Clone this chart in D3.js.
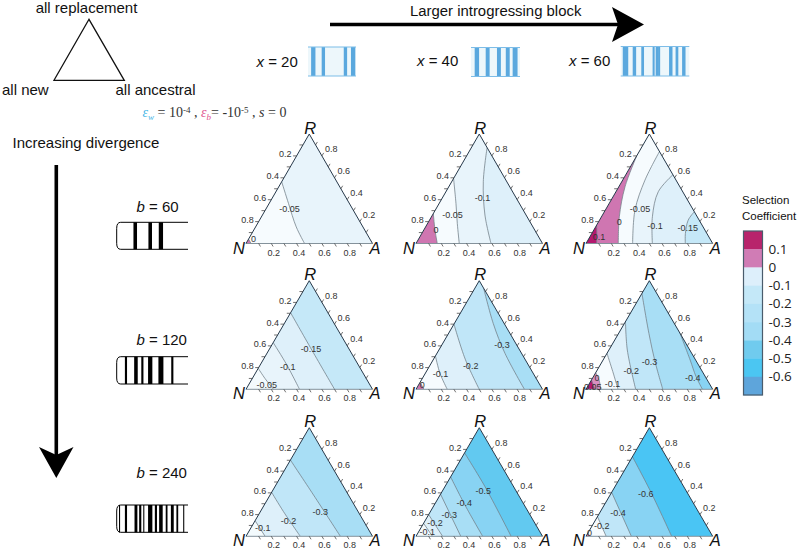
<!DOCTYPE html>
<html><head><meta charset="utf-8">
<script src="https://cdn.jsdelivr.net/npm/d3@7/dist/d3.min.js"></script>
<style>html,body{margin:0;background:#fff}svg{display:block}text{font-family:"Liberation Sans",Arial,sans-serif}</style>
</head><body><svg id="c" width="800" height="551"></svg>
<script>
// ---------- data (ternary coordinates: [ancestral, replacement]) ----------
const xSizes = [20, 40, 60];
const bSizes = [60, 120, 240];
const tickValues = [0.1,0.2,0.3,0.4,0.5,0.6,0.7,0.8,0.9];
const labelledTicks = [0.2,0.4,0.6,0.8];

const levels_b60_x20 = [0, -0.05];
const lines_b60_x20 = [
  [[0,.04],[.04,0]],
  [[0,.564],[.153,.366],[.321,.152],[.463,0]]];
const labels_b60_x20 = [[.04,.037],[.188,.311]];

const levels_b60_x40 = [0, -0.05, -0.1];
const lines_b60_x40 = [
  [[0,.274],[.08,.137],[.168,0]],
  [[0,.594],[.133,.366],[.235,.183],[.342,0]],
  [[.124,.876],[.25,.564],[.415,.26],[.593,0]]];
const labels_b60_x40 = [[.097,.122],[.158,.262],[.32,.413]];

const levels_b60_x60 = [0.1, 0, -0.05, -0.1, -0.15];
const lines_b60_x60 = [
  [[0,.168],[.04,.091],[.084,0]],
  [[0,.80],[.049,.518],[.141,.244],[.255,0]],
  [[.16,.84],[.176,.579],[.234,.305],[.368,0]],
  [[.372,.628],[.334,.473],[.402,.244],[.524,0]],
  [[.71,.29],[.70,.213],[.739,.091],[.784,0]]];
const labels_b60_x60 = [[.072,.061],[.164,.198],[.269,.314],[.465,.159],[.733,.14]];

const levels_b120_x20 = [-0.05, -0.1, -0.15];
const lines_b120_x20 = [
  [[0,.193],[.1,.1],[.217,0]],
  [[0,.43],[.211,.224],[.423,0]],
  [[0,.705],[.339,.362],[.70,0]]];
const labels_b120_x20 = [[.142,.043],[.228,.206],[.329,.368]];

const levels_b120_x40 = [0, -0.1, -0.2, -0.3];
const lines_b120_x40 = [
  [[0,.064],[.063,0]],
  [[0,.307],[.116,.147],[.247,0]],
  [[0,.60],[.25,.278],[.50,0]],
  [[.07,.93],[.307,.607],[.538,.331],[.857,0]]];
const labels_b120_x40 = [[.03,.04],[.124,.141],[.326,.212],[.478,.405]];

const levels_b120_x60 = [0.05, 0, -0.1, -0.2, -0.3, -0.4];
const lines_b120_x60 = [
  [[0,.086],[.07,0]],
  [[0,.153],[.06,.086],[.117,0]],
  [[0,.331],[.13,.163],[.253,0]],
  [[0,.623],[.145,.362],[.392,0]],
  [[0,.883],[.239,.515],[.429,.239],[.606,0]],
  [[.485,.515],[.687,.27],[.81,.117],[.919,0]]];
const labels_b120_x60 = [[.04,.025],[.033,.107],[.184,.049],[.272,.172],[.374,.255],[.79,.107]];

const levels_b240_x20 = [-0.1, -0.2, -0.3];
const lines_b240_x20 = [
  [[0,.144],[.151,0]],
  [[0,.405],[.183,.227],[.429,0]],
  [[0,.702],[.344,.38],[.746,0]]];
const labels_b240_x20 = [[.092,.08],[.264,.144],[.474,.227]];

const levels_b240_x40 = [-0.1, -0.2, -0.3, -0.4, -0.5];
const lines_b240_x40 = [
  [[0,.12],[.13,0]],
  [[0,.20],[.21,0]],
  [[0,.388],[.354,0]],
  [[0,.547],[.244,.287],[.527,0]],
  [[0,.768],[.318,.456],[.752,0]]];
const labels_b240_x40 = [[.07,.037],[.09,.12],[.167,.193],[.227,.31],[.323,.419]];

const levels_b240_x60 = [0, -0.2, -0.4, -0.6];
const lines_b240_x60 = [
  [[0,.03],[.03,0]],
  [[0,.181],[.159,0]],
  [[0,.405],[.358,0]],
  [[0,.733],[.319,.396],[.676,0]]];
const labels_b240_x60 = [[.013,.028],[.077,.095],[.146,.212],[.277,.39]];

const legendValues = [0.1, 0, -0.1, -0.2, -0.3, -0.4, -0.5, -0.6];
const blueRungs_x20 = [[11,9],[32,7],[78,7],[94,9]];
const blueRungs_x40 = [[12,9],[34,8],[57,8],[75,8],[90,10]];
const blueRungs_x60 = [[7,8],[20,5],[32,4],[48,3],[53,4],[56,3],[73,5],[82,4],[92,5]];
const blackRungs_b60 = [[26,5],[47,5],[62,6]];
const blackRungs_b120 = [[13,3],[27,5],[36,3],[47,6],[62,7],[78,3]];
const blackRungs_b240 = [[4,1.5],[13,3],[27,4],[33,3],[38,1.5],[47,6],[55,3],[62,5],[70,2.5],[78,4],[85,2.5],[94,1.5]];

// ---------- layout ----------
const svg = d3.select('#c');
const colLeft = [246, 416, 586], colRight = [372.5, 542.5, 712.7];
const rowBase = [243.5, 389.3, 536.3], rowTop = [134, 280.7, 427.7];

const belowColor = d3.scaleOrdinal()
  .domain([0.1,0.05,0,-0.05,-0.1,-0.15,-0.2,-0.3,-0.4,-0.5,-0.6])
  .range(['#cf76b1','#d98fc0','#f6fbfe','#e8f4fb','#def0fa','#c5e8f8','#c0e6f8','#a8def5','#88d3f3','#62c9f0','#4ac5f4']);
const aboveColor = l => l > 0 ? '#b4186f' : l === 0 ? '#cf76b1' : '#f3fafd';

function panel(r, c, levels, lines, labels) {
  const sx = d3.scaleLinear().domain([0,1]).range([colLeft[c], colRight[c]]);
  const sy = d3.scaleLinear().domain([0,1]).range([rowBase[r], rowTop[r]]);
  const P = ([a, rr]) => [sx(a + rr/2), sy(rr)];
  const line = d3.line().x(d => P(d)[0]).y(d => P(d)[1]).curve(d3.curveCatmullRom.alpha(0.5));
  const g = svg.append('g');
  const id = `clip${r}${c}`;
  const tri = [[0,0],[0,1],[1,0]].map(P);
  const triD = 'M' + tri.join('L') + 'Z';
  g.append('clipPath').attr('id', id).append('path').attr('d', triD);
  const body = g.append('g').attr('clip-path', `url(#${id})`);
  body.append('path').attr('d', triD).attr('fill', belowColor(levels[levels.length-1]));
  for (let i = levels.length - 1; i >= 0; i--) {
    const pts = lines[i];
    const onRight = pts[0][0] + pts[0][1] > 0.9;
    const close = 'L' + P([0,0]) + (onRight ? 'L' + P([0,1]) : '') + 'Z';
    body.append('path').attr('d', line(pts) + close)
      .attr('fill', i === 0 ? aboveColor(levels[0]) : belowColor(levels[i-1]));
  }
  lines.forEach(pts => body.append('path').attr('d', line(pts)).attr('fill','none')
    .attr('stroke','#76838b').attr('stroke-width',0.8));

  // frame
  g.append('path').attr('d','M'+P([0,0])+'L'+P([1,0])).attr('stroke','#84929b').attr('stroke-width',1).attr('fill','none');
  g.append('path').attr('d','M'+P([0,0])+'L'+P([0,1])+'L'+P([1,0])).attr('stroke','#26384a').attr('stroke-width',1).attr('fill','none');

  // ticks
  const tick = (p, dx, dy) => g.append('line').attr('x1',p[0]).attr('y1',p[1]).attr('x2',p[0]+dx).attr('y2',p[1]+dy)
    .attr('stroke','#333').attr('stroke-width',0.7);
  tickValues.forEach(v => {
    tick(P([v,0]), 1.8, 3);
    tick(P([0,1-v]), -3.5, 0);
    tick(P([1-v,v]), 1.8, -3);
  });
  const tl = (p, dx, dy, v, anchor) => g.append('text').attr('x',p[0]+dx).attr('y',p[1]+dy)
    .attr('text-anchor',anchor).attr('font-size',9).attr('fill','#333').text(v.toFixed(1));
  labelledTicks.forEach(v => {
    tl(P([v,0]), 2.5, 12, v, 'middle');
    tl(P([0,1-v]), -5, 1.5, v, 'end');
    tl(P([1-v,v]), 3, -3.5, v, 'start');
  });

  // corner letters
  const corner = (p, dx, dy, t) => g.append('text').attr('x',p[0]+dx).attr('y',p[1]+dy)
    .attr('text-anchor','middle').attr('font-size',16.5).attr('font-style','italic').attr('fill','#111').text(t);
  corner(P([0,0]), -7, 10, 'N');
  corner(P([0,1]), 1, -0.5, 'R');
  corner(P([1,0]), 2.5, 10, 'A');

  // contour labels
  labels.forEach((p, i) => {
    const q = P(p);
    g.append('text').attr('x',q[0]).attr('y',q[1]+3).attr('text-anchor','middle')
      .attr('font-size',9).attr('fill','#333').text(String(levels[i]));
  });
}
const L = [
 [[levels_b60_x20,lines_b60_x20,labels_b60_x20],[levels_b60_x40,lines_b60_x40,labels_b60_x40],[levels_b60_x60,lines_b60_x60,labels_b60_x60]],
 [[levels_b120_x20,lines_b120_x20,labels_b120_x20],[levels_b120_x40,lines_b120_x40,labels_b120_x40],[levels_b120_x60,lines_b120_x60,labels_b120_x60]],
 [[levels_b240_x20,lines_b240_x20,labels_b240_x20],[levels_b240_x40,lines_b240_x40,labels_b240_x40],[levels_b240_x60,lines_b240_x60,labels_b240_x60]]];
L.forEach((row,r)=>row.forEach((d,c)=>panel(r,c,...d)));

// ---------- plain text helper ----------
const T = (x,y,t,size,anchor='start',fill='#111') => svg.append('text').attr('x',x).attr('y',y)
  .attr('font-size',size).attr('text-anchor',anchor).attr('fill',fill).text(t);

// key triangle
svg.append('path').attr('d','M89,19.3L54,80.3L124.3,80.3Z').attr('fill','none').attr('stroke','#111').attr('stroke-width',1.3);
T(86.5,12.5,'all replacement',15,'middle');
T(2,95,'all new',15);
T(115.5,95,'all ancestral',15);

// arrows
svg.append('line').attr('x1',330).attr('x2',625).attr('y1',24.5).attr('y2',24.5).attr('stroke','#000').attr('stroke-width',3.6);
svg.append('path').attr('d','M644,24.5L612,7L618,24.5L612,42Z').attr('fill','#000');
svg.append('line').attr('x1',56.3).attr('x2',56.3).attr('y1',165).attr('y2',460).attr('stroke','#000').attr('stroke-width',3.6);
svg.append('path').attr('d','M56.3,478L39,447L56.3,455L73.5,447Z').attr('fill','#000');
T(410,15.5,'Larger introgressing block',14.9);
T(12.5,148,'Increasing divergence',15);

// blocks
function italicLabel(x,y,v,n){
  const t = svg.append('text').attr('x',x).attr('y',y).attr('font-size',15).attr('fill','#111');
  t.append('tspan').attr('font-style','italic').text(v);
  t.append('tspan').text(' = '+n);
}
function blueBlock(x0,x1,y0,y1,rungs){
  const s = d3.scaleLinear().domain([0,100]).range([x0,x1]);
  const g = svg.append('g');
  g.append('rect').attr('x',x0).attr('y',y0).attr('width',x1-x0).attr('height',y1-y0).attr('fill','#edf7fb');
  rungs.forEach(([p,w])=>g.append('rect').attr('x',s(p-w/2)).attr('y',y0).attr('width',s(w)-s(0)).attr('height',y1-y0).attr('fill','#5aa8de'));
  [y0,y1].forEach(y=>g.append('line').attr('x1',x0).attr('x2',x1).attr('y1',y).attr('y2',y).attr('stroke','#7dbde8').attr('stroke-width',1.2));
}
blueBlock(308,356,47,76,blueRungs_x20);
blueBlock(471,520,47.5,76.5,blueRungs_x40);
blueBlock(620.7,689.3,46.5,76,blueRungs_x60);
italicLabel(256.5,66.5,'x',xSizes[0]);
italicLabel(417,65.5,'x',xSizes[1]);
italicLabel(569,65.5,'x',xSizes[2]);

function blackBlock(y0,y1,rungs){
  const x0=116.7,x1=188;
  const s = d3.scaleLinear().domain([0,100]).range([x0,x1]);
  const g = svg.append('g');
  g.append('path').attr('d',`M${x1},${y0}H${x0+4}Q${x0},${y0} ${x0},${y0+6}V${y1-6}Q${x0},${y1} ${x0+4},${y1}H${x1}`)
    .attr('fill','none').attr('stroke','#000').attr('stroke-width',1);
  rungs.forEach(([p,w])=>g.append('rect').attr('x',s(p-w/2)).attr('y',y0).attr('width',s(w)-s(0)).attr('height',y1-y0).attr('fill','#000'));
}
blackBlock(222.3,249.3,blackRungs_b60);
blackBlock(356.7,384,blackRungs_b120);
blackBlock(505,532.3,blackRungs_b240);
italicLabel(136.5,211.5,'b',bSizes[0]);
italicLabel(136.5,345,'b',bSizes[1]);
italicLabel(136.5,478,'b',bSizes[2]);

// parameter line
const eq = svg.append('text').attr('x',142.5).attr('y',116.5).attr('font-size',14).attr('fill','#333')
  .style('font-family','"Liberation Serif",serif');
const ts = (t,o={}) => { const s = eq.append('tspan').text(t);
  if(o.i) s.attr('font-style','italic'); if(o.f) s.attr('fill',o.f); if(o.dy) s.attr('dy',o.dy); if(o.s) s.attr('font-size',o.s); return s; };
ts('ε',{i:1,f:'#45b6e6'}); ts('w',{i:1,f:'#45b6e6',dy:3,s:9}); ts(' = 10',{dy:-3}); ts('-4',{dy:-4,s:9}); ts(' , ',{dy:4});
ts('ε',{i:1,f:'#e0558f'}); ts('b',{i:1,f:'#e0558f',dy:3,s:9}); ts('= -10',{dy:-3}); ts('-5',{dy:-4,s:9}); ts(' , ',{dy:4}); ts('s',{i:1}); ts(' = 0');

// legend
T(742,204,'Selection',11.5);
T(742,220,'Coefficient',11.5);
const legendColors = ['#b8246c','#d07cb5','#ddeffb','#c4e8f8','#b4e2f7','#a3dcf5','#70cbee','#4bc6f2','#5ea5db'];
const ly = d3.scaleBand().domain(d3.range(legendColors.length)).range([231,395]);
legendColors.forEach((col,i)=>svg.append('rect').attr('x',743.5).attr('y',ly(i)).attr('width',19).attr('height',ly.bandwidth()+0.3).attr('fill',col));
svg.append('rect').attr('x',743.5).attr('y',231).attr('width',19).attr('height',164).attr('fill','none').attr('stroke','#4a5c6c').attr('stroke-width',1.2);
legendValues.forEach((v,i)=>{
  svg.append('text').attr('x',768.5).attr('y',ly(i)+ly.bandwidth()+4.6).attr('font-size',13.5).attr('fill','#222')
    .style('font-family','"Open Sans",sans-serif').text(String(v));
});
</script></body></html>
